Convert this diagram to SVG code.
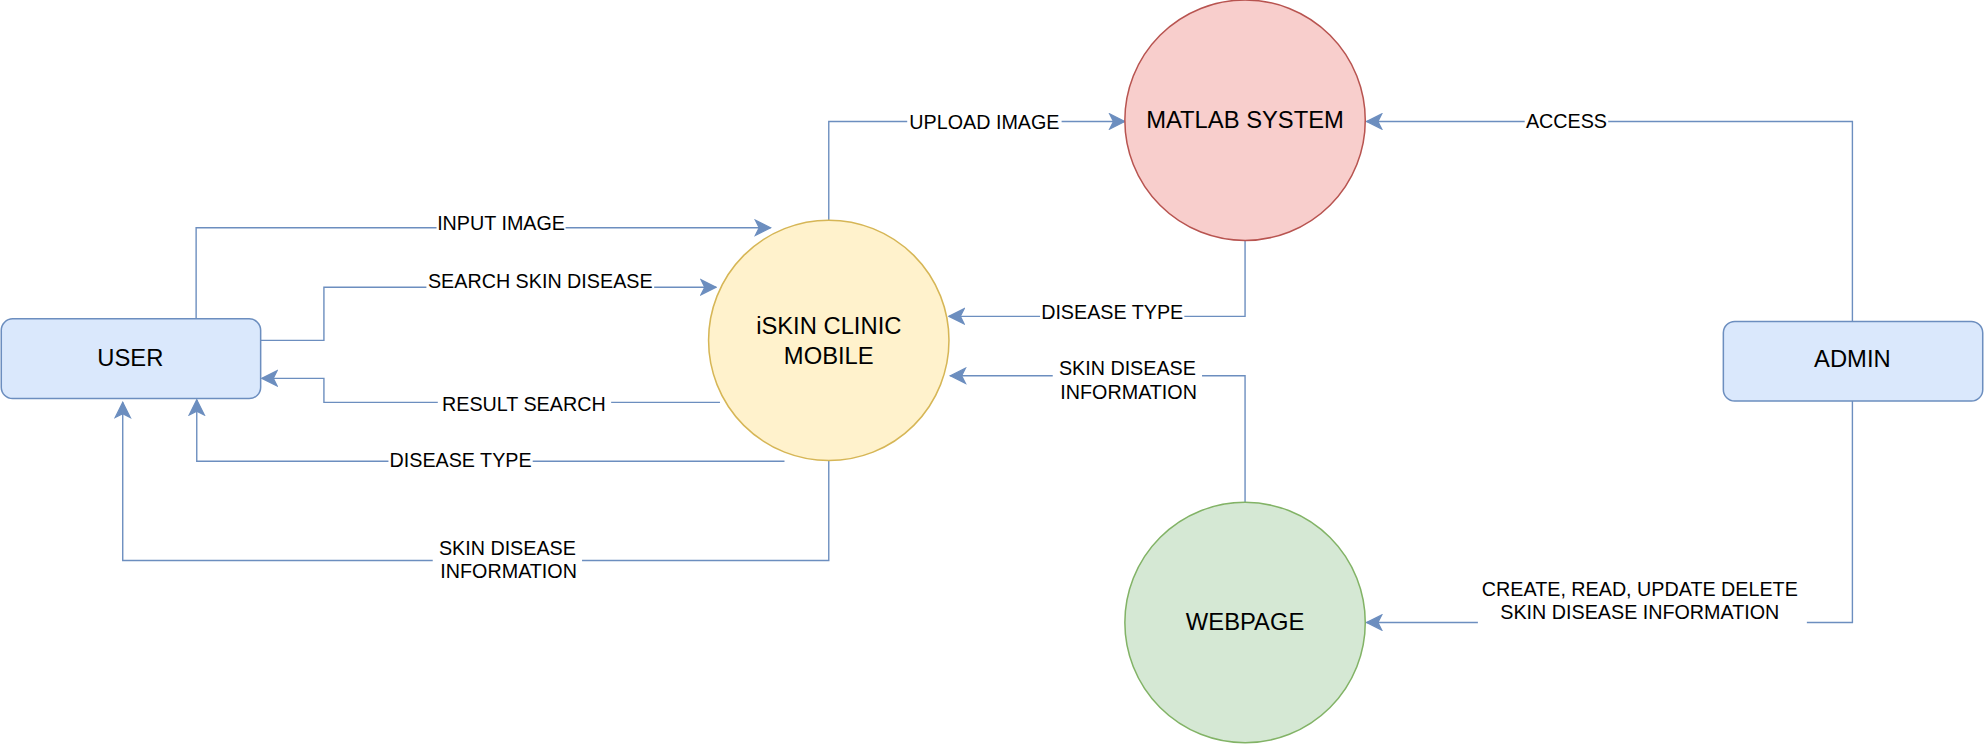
<svg xmlns="http://www.w3.org/2000/svg" width="1984" height="744" viewBox="0 0 1984 744">
<style>
.conn{fill:none;stroke:#6c8ebf;stroke-width:1.1;marker-end:url(#arr)}
.lbl{font-family:"Liberation Sans",Arial,sans-serif;font-size:15.6px;fill:#000;text-anchor:middle}
.ntx{font-family:"Liberation Sans",Arial,sans-serif;font-size:18.8px;fill:#000;text-anchor:middle}
.bg{fill:#fff}
.ent{fill:#dae8fc;stroke:#6c8ebf;stroke-width:1.2}
</style>
<defs>
<marker id="arr" markerUnits="userSpaceOnUse" markerWidth="14" markerHeight="14" viewBox="-13 -7 14 14" refX="0" refY="0" orient="auto">
<path d="M0,0 L-12,-6 L-9,0 L-12,6 Z" fill="#6c8ebf" stroke="#6c8ebf" stroke-width="1"/>
</marker>
</defs>
<rect width="1984" height="744" fill="#fff"/>
<g transform="scale(1.265306)">
<g id="connectors">
<path class="conn" d="M155,252 V180 H609"/>
<path class="conn" d="M206,269 H256 V227 H566"/>
<path class="conn" d="M569,318 H256 V299 H207"/>
<path class="conn" d="M620,364.5 H155.5 V316"/>
<path class="conn" d="M655,364 V443 H97 V318"/>
<path class="conn" d="M655,174 V96 H889"/>
<path class="conn" d="M984,190 V250 H750"/>
<path class="conn" d="M984,397 V297 H751"/>
<path class="conn" d="M1464,254 V96 H1080"/>
<path class="conn" d="M1464,317 V492 H1080"/>
<g id="labels">
<rect class="bg" x="345" y="169" width="102" height="16"/>
<text class="lbl" x="396" y="182">INPUT IMAGE</text>
<rect class="bg" x="337" y="215" width="180" height="16"/>
<text class="lbl" x="427" y="228">SEARCH SKIN DISEASE</text>
<rect class="bg" x="346" y="311" width="137" height="17"/>
<text class="lbl" x="414" y="325">RESULT SEARCH</text>
<rect class="bg" x="307" y="356" width="114" height="16"/>
<text class="lbl" x="364" y="369">DISEASE TYPE</text>
<rect class="bg" x="342" y="424" width="118" height="38"/>
<text class="lbl" x="401" y="439">SKIN DISEASE</text>
<text class="lbl" x="402" y="457">INFORMATION</text>
<rect class="bg" x="717" y="89" width="122" height="16"/>
<text class="lbl" x="778" y="102">UPLOAD IMAGE</text>
<rect class="bg" x="822" y="239" width="114" height="16"/>
<text class="lbl" x="879" y="252">DISEASE TYPE</text>
<rect class="bg" x="832" y="281" width="118" height="38"/>
<text class="lbl" x="891" y="296">SKIN DISEASE</text>
<text class="lbl" x="892" y="315">INFORMATION</text>
<rect class="bg" x="1205" y="88" width="66" height="16"/>
<text class="lbl" x="1238" y="101">ACCESS</text>
<rect class="bg" x="1168" y="456" width="260" height="38"/>
<text class="lbl" x="1296" y="471">CREATE, READ, UPDATE DELETE</text>
<text class="lbl" x="1296" y="489">SKIN DISEASE INFORMATION</text>
</g>
</g>
<g id="user">
<rect class="ent" x="1" y="252" width="205" height="63" rx="9" ry="9"/>
<text class="ntx" x="103" y="289">USER</text>
</g>
<g id="iskin">
<circle cx="655" cy="269" r="95" fill="#fff2cc" stroke="#d6b656" stroke-width="1.2"/>
<text class="ntx" x="655" y="264">iSKIN CLINIC</text>
<text class="ntx" x="655" y="288">MOBILE</text>
</g>
<g id="matlab">
<circle cx="984" cy="95" r="95" fill="#f8cecc" stroke="#b85450" stroke-width="1.2"/>
<text class="ntx" x="984" y="101">MATLAB SYSTEM</text>
</g>
<g id="webpage">
<circle cx="984" cy="492" r="95" fill="#d5e8d4" stroke="#82b366" stroke-width="1.2"/>
<text class="ntx" x="984" y="498">WEBPAGE</text>
</g>
<g id="admin">
<rect class="ent" x="1362" y="254" width="205" height="63" rx="9" ry="9"/>
<text class="ntx" x="1464" y="290">ADMIN</text>
</g>
</g>
</svg>
